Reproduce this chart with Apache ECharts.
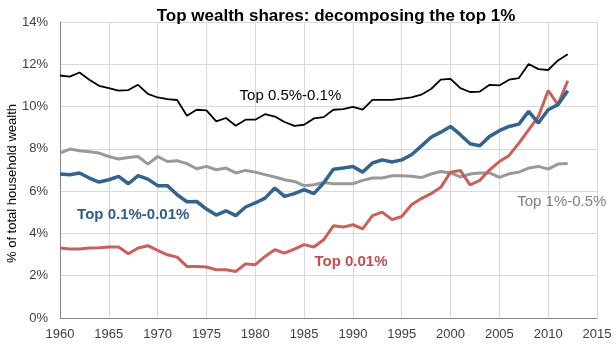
<!DOCTYPE html>
<html><head><meta charset="utf-8">
<script src="https://cdn.jsdelivr.net/npm/echarts@6/dist/echarts.min.js"></script>
<style>html,body{margin:0;padding:0;background:#fff}#c{width:616px;height:346px}</style>
</head><body><div id="c"></div>
<script>
const years = [1960,1961,1962,1963,1964,1965,1966,1967,1968,1969,1970,1971,1972,1973,1974,1975,1976,1977,1978,1979,1980,1981,1982,1983,1984,1985,1986,1987,1988,1989,1990,1991,1992,1993,1994,1995,1996,1997,1998,1999,2000,2001,2002,2003,2004,2005,2006,2007,2008,2009,2010,2011,2012];
const top05_01 = [11.47,11.42,11.61,11.27,10.98,10.87,10.75,10.78,11.03,10.60,10.43,10.35,10.31,9.57,9.85,9.82,9.30,9.46,9.09,9.38,9.38,9.64,9.53,9.27,9.09,9.14,9.44,9.50,9.85,9.88,9.98,9.86,10.32,10.32,10.32,10.38,10.43,10.56,10.83,11.27,11.31,10.87,10.69,10.71,11.03,11.00,11.27,11.35,12.01,11.77,11.73,12.18,12.48];
const top1_05 = [7.80,7.99,7.91,7.86,7.80,7.64,7.52,7.59,7.64,7.28,7.64,7.40,7.44,7.30,7.06,7.17,7.01,7.09,6.86,6.98,6.90,6.78,6.67,6.54,6.46,6.26,6.30,6.41,6.35,6.35,6.35,6.51,6.62,6.62,6.73,6.73,6.70,6.64,6.81,6.93,6.86,6.67,6.81,6.86,6.86,6.65,6.82,6.90,7.09,7.17,7.04,7.28,7.31];
const top01_001 = [6.81,6.78,6.86,6.62,6.43,6.54,6.70,6.35,6.73,6.57,6.26,6.26,5.83,5.50,5.51,5.15,4.87,5.07,4.84,5.25,5.44,5.67,6.15,5.75,5.88,6.07,5.88,6.38,7.04,7.09,7.17,6.90,7.33,7.48,7.38,7.48,7.72,8.13,8.55,8.79,9.06,8.67,8.24,8.15,8.59,8.86,9.06,9.17,9.77,9.22,9.85,10.09,10.75];
const top001 = [3.31,3.26,3.26,3.31,3.32,3.36,3.36,3.04,3.31,3.42,3.20,2.99,2.88,2.44,2.44,2.41,2.28,2.28,2.20,2.56,2.52,2.91,3.23,3.07,3.26,3.47,3.36,3.70,4.36,4.30,4.41,4.22,4.84,5.01,4.65,4.80,5.36,5.65,5.88,6.18,6.90,6.98,6.30,6.51,7.01,7.40,7.69,8.27,8.90,9.53,10.76,10.09,11.22];
const xTicks = {min:1960, max:2015, step:5};
const yTicks = {min:0, max:14, step:2};
const titleText = 'Top wealth shares: decomposing the top 1%';
const yName = '% of total household wealth';
const labels = [
  {text:'Top 0.5%-0.1%', x:1983.6, y:10.51, color:'#000000', bold:false},
  {text:'Top 0.1%-0.01%', x:1967.5, y:4.88, color:'#2F5D8C', bold:true},
  {text:'Top 0.01%', x:1989.8, y:2.66, color:'#C0504D', bold:true},
  {text:'Top 1%-0.5%', x:2011.4, y:5.50, color:'#808080', bold:false}
];
const pairs = arr => years.map((y,i)=>[y,arr[i]]);
const FONT = '"Liberation Sans", Arial, sans-serif';
function mk(name, data, color, width, lab){
  return {name, type:'line', data:pairs(data), symbol:'none', smooth:false,
    lineStyle:{color, width}, itemStyle:{color}, z: 3,
    markPoint: lab ? {symbol:'circle', symbolSize:1, itemStyle:{color:'rgba(0,0,0,0)'},
      data:[{coord:[lab.x, lab.y], label:{show:true, position:'inside', formatter:lab.text,
        color:lab.color, fontSize:15, fontWeight: lab.bold?'bold':'normal', fontFamily:FONT}}]} : undefined
  };
}
const chart = echarts.init(document.getElementById('c'), null, {renderer:'canvas'});
chart.setOption({
  animation:false,
  backgroundColor:'#ffffff',
  title:{text:titleText, left:331, top:3, textAlign:'center',
    textStyle:{fontFamily:FONT, fontSize:17, fontWeight:'bold', color:'#000'}},
  graphic:[{type:'text', x:6, y:263, rotation:Math.PI/2,
    style:{text:yName, fill:'#000', font:'13px "Liberation Sans", Arial, sans-serif'}}],
  grid:{left:60, right:19, top:22, bottom:28, containLabel:false},
  xAxis:{type:'value', min:xTicks.min, max:xTicks.max, interval:xTicks.step,
    axisLine:{show:true, lineStyle:{color:'#868686', width:1}}, axisTick:{show:false},
    axisLabel:{color:'#404040', fontFamily:FONT, fontSize:13, margin:10, formatter:v=>String(v)},
    splitLine:{show:true, lineStyle:{color:'#d9d9d9', width:1}}},
  yAxis:{type:'value', min:yTicks.min, max:yTicks.max, interval:yTicks.step,
    axisLine:{show:true, lineStyle:{color:'#868686', width:1}}, axisTick:{show:false},
    axisLabel:{color:'#404040', fontFamily:FONT, fontSize:13, margin:12, formatter:v=>v+'%'},
    splitLine:{show:true, lineStyle:{color:'#d9d9d9', width:1}}},
  series:[
    mk('Top 1%-0.5%', top1_05, '#999999', 3, labels[3]),
    mk('Top 0.01%', top001, '#C9605A', 3, labels[2]),
    mk('Top 0.1%-0.01%', top01_001, '#33638F', 3.5, labels[1]),
    mk('Top 0.5%-0.1%', top05_01, '#000000', 1.8, labels[0])
  ]
});
</script></body></html>
